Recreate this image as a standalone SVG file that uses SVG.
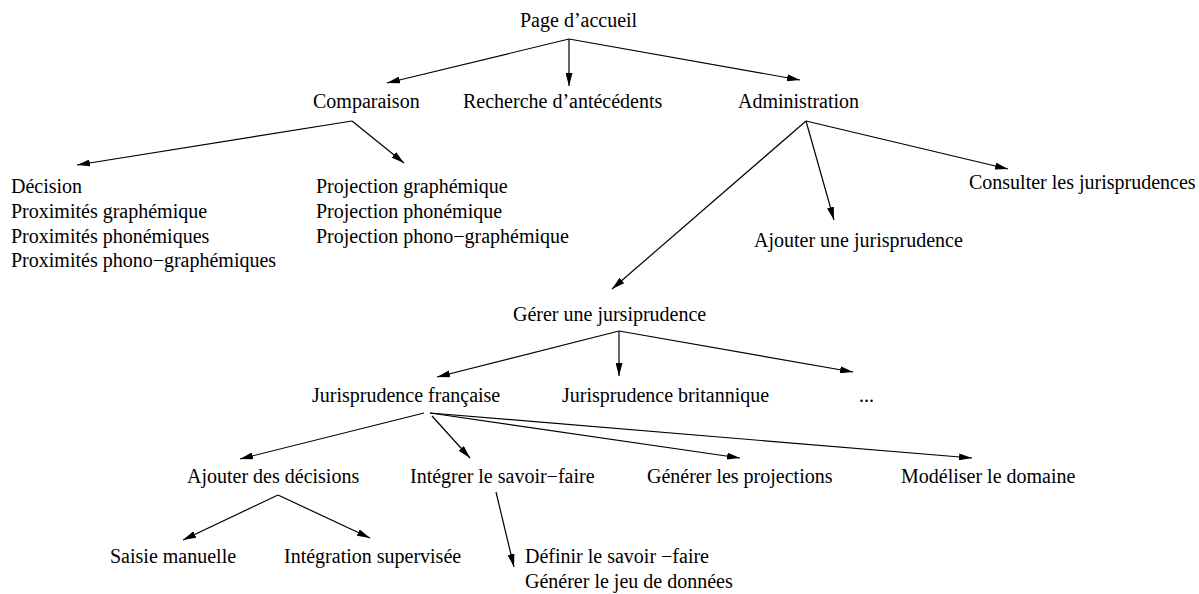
<svg xmlns="http://www.w3.org/2000/svg" width="1199" height="594" viewBox="0 0 1199 594">
<style>
text{font-family:"Liberation Serif","Times New Roman",serif;font-size:20px;fill:#000}
.c line{stroke:#000;stroke-width:1.2;marker-end:url(#ah)}
</style>
<defs>
<marker id="ah" viewBox="0 0 13 7" refX="13" refY="3.5" markerWidth="13" markerHeight="7" markerUnits="userSpaceOnUse" orient="auto">
<path d="M0,0 L13,3.5 L0,7 z" fill="#000"/>
</marker>
</defs>
<rect width="1199" height="594" fill="#fff"/>
<g id="connectors" class="c">
<line x1="569" y1="39" x2="387" y2="83"/>
<line x1="569" y1="39" x2="569" y2="86"/>
<line x1="569" y1="39" x2="800" y2="80"/>
<line x1="352" y1="121" x2="77" y2="165"/>
<line x1="352" y1="121" x2="404" y2="163"/>
<line x1="806" y1="121" x2="612" y2="289"/>
<line x1="806" y1="121" x2="834" y2="220"/>
<line x1="806" y1="121" x2="1008" y2="169"/>
<line x1="619" y1="331" x2="437" y2="377"/>
<line x1="619" y1="331" x2="619" y2="376"/>
<line x1="619" y1="331" x2="853" y2="372"/>
<line x1="424" y1="413" x2="240" y2="459"/>
<line x1="432" y1="416" x2="470" y2="458"/>
<line x1="430" y1="413" x2="740" y2="458"/>
<line x1="430" y1="413" x2="972" y2="458"/>
<line x1="278" y1="495" x2="183" y2="540"/>
<line x1="278" y1="495" x2="370" y2="538"/>
<line x1="496" y1="492" x2="514" y2="567"/>
</g>
<g id="n-accueil"><text x="520" y="27">Page d’accueil</text></g>
<g id="n-comparaison"><text x="313" y="108">Comparaison</text></g>
<g id="n-recherche"><text x="463" y="108">Recherche d’antécédents</text></g>
<g id="n-administration"><text x="738" y="108">Administration</text></g>
<g id="n-decision-list"><text x="11" y="193"><tspan x="11" y="193">Décision</tspan><tspan x="11" y="218">Proximités graphémique</tspan><tspan x="11" y="243">Proximités phonémiques</tspan><tspan x="11" y="267">Proximités phono−graphémiques</tspan></text></g>
<g id="n-projection-list"><text x="316" y="193"><tspan x="316" y="193">Projection graphémique</tspan><tspan x="316" y="218">Projection phonémique</tspan><tspan x="316" y="243">Projection phono−graphémique</tspan></text></g>
<g id="n-consulter"><text x="969" y="189">Consulter les jurisprudences</text></g>
<g id="n-ajouter-jur"><text x="754" y="247">Ajouter une jurisprudence</text></g>
<g id="n-gerer"><text x="513" y="321">Gérer une jursiprudence</text></g>
<g id="n-jur-fr"><text x="312" y="402">Jurisprudence française</text></g>
<g id="n-jur-br"><text x="562" y="402">Jurisprudence britannique</text></g>
<g id="n-etc"><text x="859" y="402">...</text></g>
<g id="n-ajouter-dec"><text x="187" y="483">Ajouter des décisions</text></g>
<g id="n-integrer"><text x="410" y="483">Intégrer le savoir−faire</text></g>
<g id="n-generer-proj"><text x="647" y="483">Générer les projections</text></g>
<g id="n-modeliser"><text x="901" y="483">Modéliser le domaine</text></g>
<g id="n-saisie"><text x="110" y="563">Saisie manuelle</text></g>
<g id="n-integration"><text x="284" y="563">Intégration supervisée</text></g>
<g id="n-definir"><text x="525" y="563"><tspan x="525" y="563">Définir le savoir −faire</tspan><tspan x="525" y="588">Générer le jeu de données</tspan></text></g>
</svg>
